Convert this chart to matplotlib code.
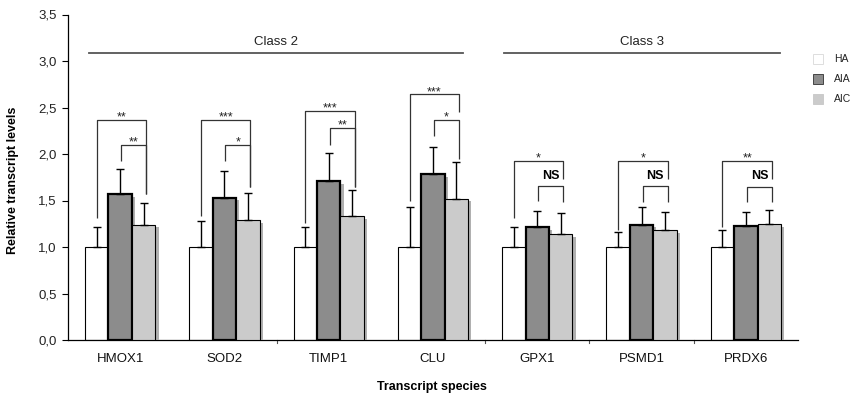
import matplotlib
matplotlib.use("Agg")
import matplotlib.pyplot as plt
import matplotlib.patheffects as pe
from matplotlib.patches import Rectangle
import numpy as np

plt.rcParams['font.family'] = ['Liberation Sans', 'DejaVu Sans']

categories = ["HMOX1", "SOD2", "TIMP1", "CLU", "GPX1", "PSMD1", "PRDX6"]
series = ["HA", "AIA", "AIC"]
ha_mean = [1.0, 1.0, 1.0, 1.0, 1.0, 1.0, 1.0]
ha_err = [0.21, 0.28, 0.22, 0.43, 0.21, 0.16, 0.18]
aia_mean = [1.57, 1.53, 1.71, 1.78, 1.21, 1.24, 1.23]
aia_err = [0.27, 0.29, 0.30, 0.30, 0.18, 0.19, 0.15]
aic_mean = [1.24, 1.29, 1.33, 1.52, 1.14, 1.18, 1.25]
aic_err = [0.23, 0.29, 0.28, 0.39, 0.23, 0.20, 0.15]

# significance: (label HA-vs-AIC, label AIA-vs-AIC)
sig_big = ["**", "***", "***", "***", "*", "*", "**"]
sig_small = ["**", "*", "**", "*", "NS", "NS", "NS"]
# bracket heights (value units)
big_top = [2.37, 2.37, 2.46, 2.64, 1.92, 1.92, 1.92]
big_left_bottom = [1.31, 1.33, 1.26, 1.49, 1.31, 1.18, 1.22]
big_right_bottom = [1.57, 1.65, 1.65, 2.45, 1.73, 1.73, 1.73]
small_top = [2.10, 2.10, 2.28, 2.37, 1.66, 1.66, 1.65]
small_left_bottom = [1.92, 1.92, 2.10, 2.19, 1.49, 1.48, 1.48]
small_right_bottom = [1.57, 1.65, 1.65, 1.95, 1.48, 1.48, 1.48]

classes = ["Class 2", "Class 3"]
class_first = [0, 4]
class_last = [3, 6]
class_level = 3.09

yticks = [0.0, 0.5, 1.0, 1.5, 2.0, 2.5, 3.0, 3.5]
ytick_labels = ["0,0", "0,5", "1,0", "1,5", "2,0", "2,5", "3,0", "3,5"]

fill_colors = ["#ffffff", "#8c8c8c", "#cbcbcb"]
edge_widths = [0.8, 1.6, 0.8]

fig = plt.figure(figsize=(8.57, 4.0), dpi=100)
ax = fig.add_axes([68 / 857, 60 / 400, 730 / 857, 325.5 / 400])

x = np.arange(len(categories))
w = 0.225
offsets = [-w, 0.0, w]
means = [ha_mean, aia_mean, aic_mean]
errs = [ha_err, aia_err, aic_err]

for i in range(3):
    effects = None
    if i > 0:
        effects = [pe.SimplePatchShadow(offset=(2.3, -2.0), shadow_rgbFace="#b0b0b0", alpha=1.0), pe.Normal()]
    bars = ax.bar(x + offsets[i], means[i], width=w, color=fill_colors[i],
                  edgecolor="black", linewidth=edge_widths[i], zorder=2 + i,
                  label=series[i])
    if effects:
        for b in bars:
            b.set_path_effects(effects)
    ax.errorbar(x + offsets[i], means[i],
                yerr=[np.zeros(len(categories)), errs[i]],
                fmt="none", ecolor="black", elinewidth=1.0, capsize=3.2,
                capthick=1.0, zorder=2 + i)

lc = "#333333"
for k in range(len(categories)):
    xl = x[k] - w
    xm = x[k] + 0.01
    xr = x[k] + w + 0.025
    # big bracket
    ax.plot([xl, xl, xr, xr], [big_left_bottom[k], big_top[k], big_top[k], big_right_bottom[k]],
            color=lc, lw=0.9, zorder=6, solid_capstyle="butt")
    ax.text((xl + xr) / 2, big_top[k] - 0.005, sig_big[k], ha="center", va="baseline",
            fontsize=9, color="#222222", zorder=7)
    # small bracket
    ax.plot([xm, xm, xr, xr], [small_left_bottom[k], small_top[k], small_top[k], small_right_bottom[k]],
            color=lc, lw=0.9, zorder=6, solid_capstyle="butt")
    if sig_small[k] == "NS":
        ax.text(x[k] + 0.13, big_right_bottom[k] + 0.005, "NS", ha="center", va="baseline",
                fontsize=9, fontweight="bold", color="black", zorder=7)
    else:
        ax.text((xm + xr) / 2, small_top[k] - 0.005, sig_small[k], ha="center", va="baseline",
                fontsize=9, color="#222222", zorder=7)

class_pad_left = [0.30, 0.32]
class_pad_right = [0.29, 0.33]
for name, a, b, pl, pr in zip(classes, class_first, class_last, class_pad_left, class_pad_right):
    x0 = x[a] - pl
    x1 = x[b] + pr
    ax.plot([x0, x1], [class_level, class_level], color="#555555", lw=1.3)
    ax.text((x0 + x1) / 2, class_level + 0.115, name, ha="center", va="center",
            fontsize=9.5, color="#222222")

ax.set_xlim(-0.5, 6.5)
ax.set_ylim(0, 3.5)
ax.set_yticks(yticks)
ax.set_yticklabels(ytick_labels, fontsize=9.5, color="#222222")
ax.set_xticks(x)
ax.set_xticklabels(categories, fontsize=9.5, color="#111111")
ax.tick_params(axis="x", length=0, pad=9)
ax.tick_params(axis="y", length=4, width=0.8, direction="out", pad=4)
for bx in [1.5, 3.5, 4.5, 5.5]:
    ax.plot([bx, bx], [0, -0.03], color="#555555", lw=0.8, clip_on=False)
ax.spines["top"].set_visible(False)
ax.spines["right"].set_visible(False)
ax.spines["left"].set_linewidth(0.9)
ax.spines["bottom"].set_linewidth(0.9)

ax.set_ylabel("Relative transcript levels", fontsize=9, fontweight="bold")
ax.yaxis.set_label_coords(-49 / 730, 0.49)
fig.text(432 / 857, 1 - 387 / 400, "Transcript species", ha="center", va="center",
         fontsize=9, fontweight="bold")

# legend
leg_edges = ["#dddddd", "#444444", "#cbcbcb"]
for i, name in enumerate(series):
    yc = 59 + 20 * i
    fig.add_artist(Rectangle(((813) / 857, 1 - (yc + 5) / 400), 10 / 857, 10 / 400,
                             facecolor=fill_colors[i], edgecolor=leg_edges[i], linewidth=0.7,
                             transform=fig.transFigure))
    fig.text(834 / 857, 1 - yc / 400, name, ha="left", va="center", fontsize=7.5, color="#222222")

fig.savefig("out.png", dpi=100)
